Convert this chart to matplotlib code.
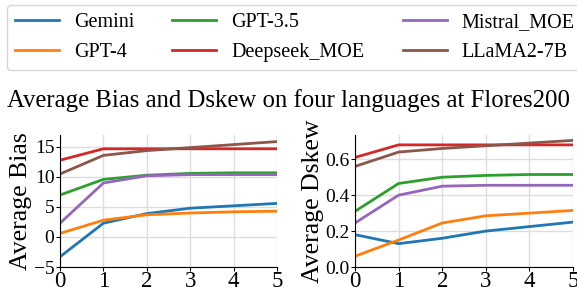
import matplotlib
matplotlib.use("Agg")
import matplotlib.pyplot as plt

plt.rcParams['font.family'] = ['Liberation Serif', 'DejaVu Serif']

x = [0, 1, 2, 3, 4, 5]
models = ["Gemini", "GPT-4", "GPT-3.5", "Deepseek_MOE", "Mistral_MOE", "LLaMA2-7B"]
colors = ["#1f77b4", "#ff7f0e", "#2ca02c", "#d62728", "#9467bd", "#8c564b"]

bias_gemini = [-3.3, 2.3, 3.9, 4.8, 5.2, 5.6]
bias_gpt4 = [0.6, 2.8, 3.7, 4.0, 4.2, 4.3]
bias_gpt35 = [7.0, 9.6, 10.3, 10.6, 10.7, 10.7]
bias_deepseek = [12.8, 14.7, 14.7, 14.7, 14.7, 14.7]
bias_mistral = [2.3, 9.0, 10.2, 10.4, 10.4, 10.4]
bias_llama = [10.5, 13.6, 14.4, 14.9, 15.4, 15.9]

dskew_gemini = [0.18, 0.13, 0.16, 0.20, 0.225, 0.25]
dskew_gpt4 = [0.06, 0.15, 0.245, 0.285, 0.30, 0.315]
dskew_gpt35 = [0.31, 0.465, 0.50, 0.51, 0.515, 0.515]
dskew_deepseek = [0.61, 0.68, 0.68, 0.68, 0.68, 0.68]
dskew_mistral = [0.245, 0.40, 0.45, 0.455, 0.455, 0.455]
dskew_llama = [0.56, 0.64, 0.66, 0.675, 0.69, 0.705]

bias = [bias_gemini, bias_gpt4, bias_gpt35, bias_deepseek, bias_mistral, bias_llama]
dskew = [dskew_gemini, dskew_gpt4, dskew_gpt35, dskew_deepseek, dskew_mistral, dskew_llama]

W, H = 577, 291
fig = plt.figure(figsize=(W/100, H/100), dpi=100)
ax1 = fig.add_axes([60/W, 1-267/H, 217/W, 132/H])
ax2 = fig.add_axes([355/W, 1-267/H, 218/W, 132/H])

handles = []
for vals, name, c in zip(bias, models, colors):
    h, = ax1.plot(x, vals, color=c, lw=2, label=name)
    handles.append(h)
for vals, name, c in zip(dskew, models, colors):
    ax2.plot(x, vals, color=c, lw=2, label=name)

ax1.set_ylim(-5, 17)
ax1.set_yticks([-5, 0, 5, 10, 15])
ax1.set_ylabel("Average Bias", fontsize=18.5, labelpad=1)
ax2.set_ylim(0, 0.735)
ax2.set_yticks([0.0, 0.2, 0.4, 0.6])
ax2.set_yticklabels(["0.0", "0.2", "0.4", "0.6"])
ax2.set_ylabel("Average Dskew", fontsize=18.5, labelpad=1)

for ax in (ax1, ax2):
    ax.set_xlim(0, 5)
    ax.set_xticks(x)
    ax.grid(True, color="#dddddd", lw=1)
    ax.set_axisbelow(True)
    ax.spines['top'].set_visible(False)
    ax.spines['right'].set_visible(False)
    ax.tick_params(axis='y', labelsize=14, length=3, pad=1)
    ax.tick_params(axis='x', labelsize=16.5, length=3, pad=0)

fig.legend(handles=handles, labels=models, ncol=3, loc='upper left',
           bbox_to_anchor=(7/W, 1-5/H), fontsize=14.5, frameon=True,
           handlelength=2.19, columnspacing=1.89, borderaxespad=0,
           borderpad=0.38, labelspacing=0.55, handletextpad=0.75,
           edgecolor="#cccccc", fancybox=True)

fig.text(0.5, 1-101/H, "Average Bias and Dskew on four languages at Flores200",
         ha='center', va='center', fontsize=17.8)

fig.savefig("out.png", dpi=100)
